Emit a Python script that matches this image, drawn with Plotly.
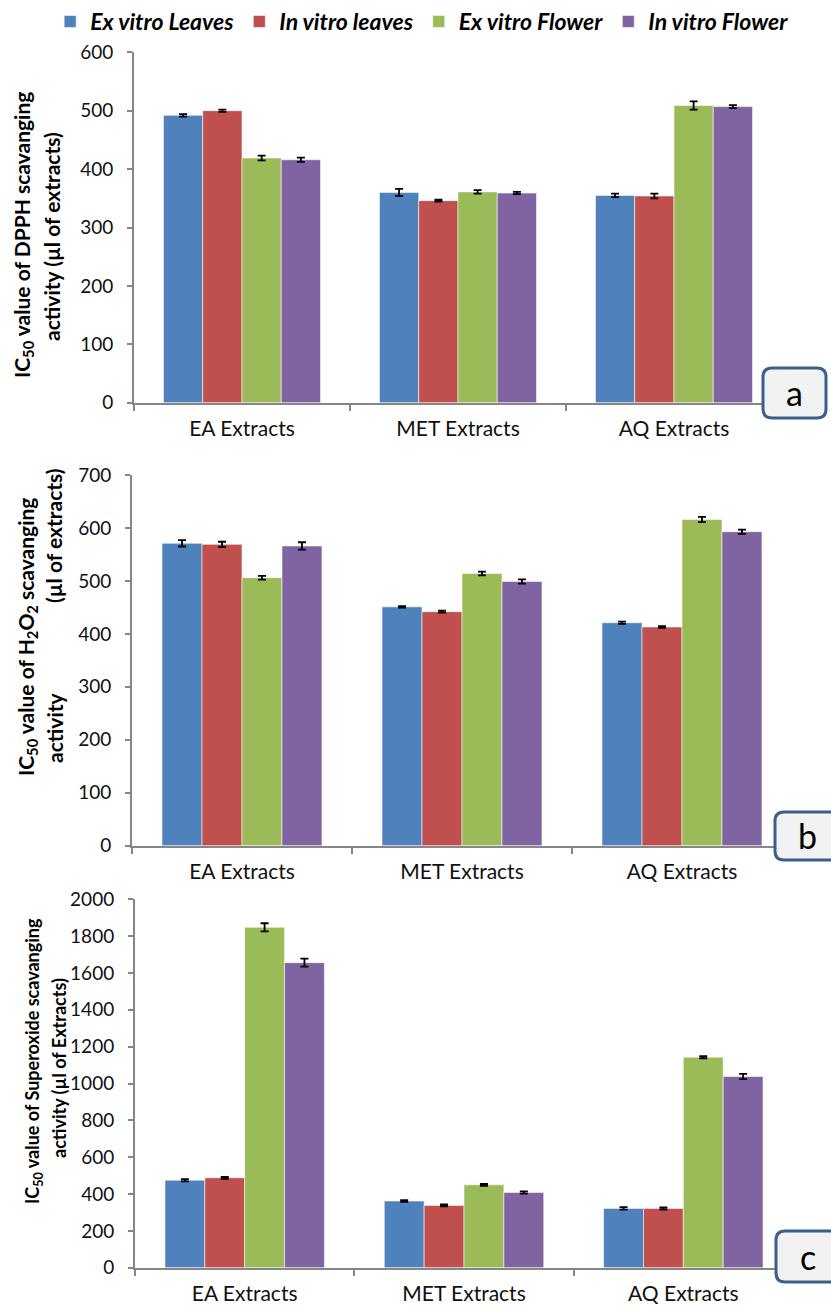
import plotly.graph_objects as go

# Extract types on the x axis and the four plant-material series
categories = ["EA Extracts", "MET Extracts", "AQ Extracts"]
series_names = ["Ex vitro Leaves", "In vitro leaves", "Ex vitro Flower", "In vitro Flower"]
series_colors = ["#4F81BD", "#C0504D", "#9BBB59", "#8064A2"]

# (a) DPPH scavenging IC50 (µl of extracts)
dpph_ex_leaves = [492, 360, 355]
dpph_in_leaves = [500, 346, 354]
dpph_ex_flower = [419, 361, 509]
dpph_in_flower = [416, 359, 507]
dpph_err_ex_leaves = [2, 6, 3]
dpph_err_in_leaves = [2, 1.5, 4]
dpph_err_ex_flower = [4, 3, 7]
dpph_err_in_flower = [3.5, 2, 2.5]

# (b) H2O2 scavenging IC50 (µl of extracts)
h2o2_ex_leaves = [571, 451, 421]
h2o2_in_leaves = [569, 442, 413]
h2o2_ex_flower = [506, 514, 616]
h2o2_in_flower = [566, 499, 593]
h2o2_err_ex_leaves = [6, 1.5, 2]
h2o2_err_in_leaves = [5, 2, 1.5]
h2o2_err_ex_flower = [3.5, 3.5, 5]
h2o2_err_in_flower = [7, 4, 4]

# (c) Superoxide scavenging IC50 (µl of Extracts)
so_ex_leaves = [475, 362, 322]
so_in_leaves = [488, 338, 322]
so_ex_flower = [1848, 450, 1143]
so_in_flower = [1656, 408, 1038]
so_err_ex_leaves = [6, 5, 7]
so_err_in_leaves = [5, 5, 6]
so_err_ex_flower = [22, 5, 6]
so_err_in_flower = [22, 6, 14]

panels = [
    ([dpph_ex_leaves, dpph_in_leaves, dpph_ex_flower, dpph_in_flower],
     [dpph_err_ex_leaves, dpph_err_in_leaves, dpph_err_ex_flower, dpph_err_in_flower]),
    ([h2o2_ex_leaves, h2o2_in_leaves, h2o2_ex_flower, h2o2_in_flower],
     [h2o2_err_ex_leaves, h2o2_err_in_leaves, h2o2_err_ex_flower, h2o2_err_in_flower]),
    ([so_ex_leaves, so_in_leaves, so_ex_flower, so_in_flower],
     [so_err_ex_leaves, so_err_in_leaves, so_err_ex_flower, so_err_in_flower]),
]

W, H = 831, 1309
FONT = "Lato"

fig = go.Figure()
for p, (vals, errs) in enumerate(panels):
    suffix = "" if p == 0 else str(p + 1)
    for s in range(4):
        fig.add_trace(go.Bar(
            x=categories, y=vals[s], name=series_names[s],
            marker=dict(color=series_colors[s], line=dict(color="rgba(255,255,255,0.55)", width=1)),
            error_y=dict(type="data", array=errs[s], color="black", thickness=1.8, width=4),
            xaxis="x" + suffix, yaxis="y" + suffix,
            showlegend=(p == 0), legendgroup=series_names[s],
        ))

def px_x(v):
    return v / W

def px_y(v):
    return 1 - v / H

# plot areas in pixel terms: (left, right, top, bottom)
areas = [(134, 782, 52.3, 402.7), (132, 792, 475, 845.7), (135, 793, 899.3, 1267.7)]
yranges = [(0, 600, 100), (0, 700, 100), (0, 2000, 200)]

axis_common = dict(showline=True, linecolor="#868686", linewidth=2, showgrid=False, zeroline=False,
                   ticks="outside", tickcolor="#868686", tickwidth=1.5, automargin=False)

layout = dict(
    width=W, height=H, margin=dict(l=0, r=0, t=0, b=0, autoexpand=False),
    paper_bgcolor="white", plot_bgcolor="white",
    barmode="group", bargap=0.273, bargroupgap=0,
    showlegend=True,
    legend=dict(orientation="h", x=0.508, xanchor="center", y=1.0, yanchor="top",
                font=dict(family=FONT, size=23, color="black", style="italic", weight="bold"),
                itemwidth=30, tracegroupgap=0),
)
for p in range(3):
    suffix = "" if p == 0 else str(p + 1)
    l, r, t, b = areas[p]
    lo, hi, dt = yranges[p]
    layout["xaxis" + suffix] = dict(
        axis_common, domain=[px_x(l), px_x(r)], anchor="y" + suffix,
        type="category", tickson="boundaries", ticklen=6,
        tickfont=dict(family=FONT, size=21, color="#111"), ticklabelstandoff=6,
    )
    layout["yaxis" + suffix] = dict(
        axis_common, domain=[px_y(b), px_y(t)], anchor="x" + suffix,
        range=[lo, hi], dtick=dt, ticklen=5,
        tickfont=dict(family=FONT, size=19, color="#111"), ticklabelstandoff=10,
    )
fig.update_layout(**layout)

# rotated y-axis titles
title_font = dict(family=FONT, size=21, color="black", weight="bold")
titles = [
    ("IC<sub>50</sub> value of DPPH scavanging", 23, 235, 21),
    ("activity (µl of extracts)", 52, 237, 21),
    ("IC<sub>50</sub> value of H<sub>2</sub>O<sub>2</sub> scavanging", 27, 637, 21),
    ("activity", 54, 727, 21),
    ("(µl of extracts)", 54, 535, 21),
    ("IC<sub>50</sub> value of Superoxide scavanging", 33, 1061, 18),
    ("activity (µl of Extracts)", 59, 1068, 18),
]
for text, cx, cy, size in titles:
    fig.add_annotation(text=text, x=px_x(cx), y=px_y(cy), xref="paper", yref="paper",
                       xanchor="center", yanchor="middle", textangle=-90, showarrow=False,
                       font=dict(title_font, size=size))

# panel letters in rounded boxes
def rounded_box(x0, y0, x1, y1, rad):
    X0, X1 = px_x(x0), px_x(x1)
    Y0, Y1 = px_y(y0), px_y(y1)
    rx, ry = rad / W, rad / H
    return (f"M {X0+rx},{Y0} L {X1-rx},{Y0} Q {X1},{Y0} {X1},{Y0-ry} "
            f"L {X1},{Y1+ry} Q {X1},{Y1} {X1-rx},{Y1} L {X0+rx},{Y1} "
            f"Q {X0},{Y1} {X0},{Y1+ry} L {X0},{Y0-ry} Q {X0},{Y0} {X0+rx},{Y0} Z")

boxes = [("a", 763, 368, 826, 418), ("b", 775, 812, 845, 860), ("c", 776, 1231, 845, 1282)]
for letter, x0, y0, x1, y1 in boxes:
    fig.add_shape(type="path", path=rounded_box(x0, y0, x1, y1, 9), xref="paper", yref="paper",
                  fillcolor="#F2F2F2", line=dict(color="#3B5E8C", width=3))
    cx = (x0 + min(x1, 831)) / 2 if letter == "a" else x0 + 32
    fig.add_annotation(text=letter, x=px_x(cx), y=px_y((y0 + y1) / 2), xref="paper", yref="paper",
                       xanchor="center", yanchor="middle", showarrow=False,
                       font=dict(family=FONT, size=34, color="black"))

fig.write_html("out.html")
